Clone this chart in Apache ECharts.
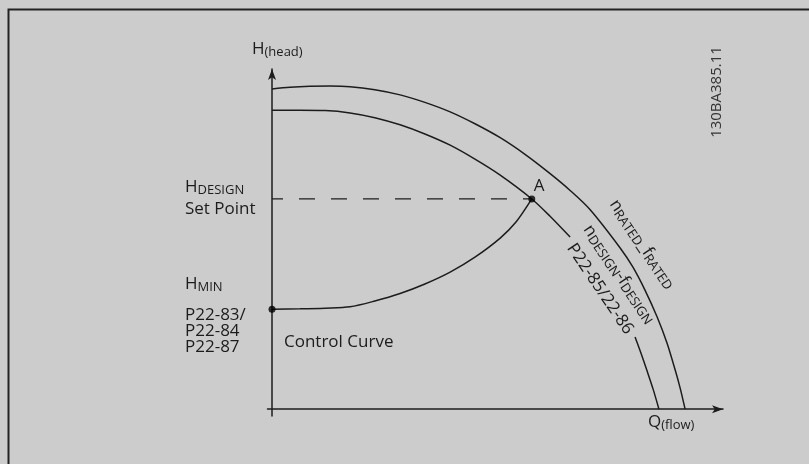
<!DOCTYPE html>
<html>
<head>
<meta charset="utf-8">
<script src="https://cdn.jsdelivr.net/npm/echarts@6/dist/echarts.min.js"></script>
<style>
  html, body, #main {
    width: 100%;
    height: 100%;
    margin: 0;
    background: #cccccc;
  }
</style>
</head>
<body>
<div id="main"></div>
<script>
// Q (flow) and H (head) in relative units, both axes run 0..100
var ratedQ = [0, 4.0, 8.4, 12.9, 17.3, 22.8, 28.4, 33.9, 39.5, 45.0, 50.6, 56.1, 61.6, 66.1, 70.5, 77.2, 80.0, 82.7, 85.4, 87.6, 89.4, 90.5, 91.6]
var ratedH = [94.1, 94.6, 94.9, 95.0, 94.8, 93.9, 92.4, 90.2, 87.4, 83.9, 79.8, 74.9, 69.3, 64.3, 58.7, 47.4, 41.8, 35.0, 27.1, 19.4, 11.5, 6.2, 0]

// design curve is broken where its label sits (null = gap)
var designQ = [0, 6.2, 11.8, 17.3, 22.8, 28.4, 33.9, 39.5, 45.0, 50.6, 57.6, 61.6, 66.1, null, 80.5, 81.8, 83.1, 84.5, 85.8]
var designH = [87.9, 87.9, 87.8, 87.1, 85.7, 83.6, 80.9, 77.6, 73.5, 68.8, 61.8, 56.8, 50.6, null, 21.2, 16.5, 11.5, 5.9, 0]

var controlQ = [0, 6.2, 11.8, 17.3, 22.8, 28.4, 33.9, 39.5, 45.0, 50.6, 54.1, 57.6]
var controlH = [29.4, 29.5, 29.7, 30.1, 31.8, 34.0, 36.8, 40.3, 44.7, 50.3, 55.0, 61.8]

var pointA = [57.6, 61.8]
var pointHmin = [0, 29.4]

var ink = '#1c1c1c'
var font = '"Open Sans", sans-serif'

var pairs = function (xs, ys) {
  return xs.map(function (x, i) { return x === null ? [null, null] : [x, ys[i]] })
}

var chart = echarts.init(document.getElementById('main'))

var sub = function (size, pad) {
  return { fontSize: size, fontFamily: font, color: ink, verticalAlign: 'top', lineHeight: 20, padding: [pad, 0, 0, 0] }
}
var rich = { m: sub(17, 0), s: sub(13, 5) }

var label = function (x, y, text, opt) {
  opt = opt || {}
  return {
    type: 'text', x: x, y: y, rotation: opt.rotation || 0, z: 10,
    style: Object.assign({
      text: text, rich: rich, fill: ink, font: '17px ' + font,
      textAlign: opt.align || 'left', textVerticalAlign: opt.valign || 'top',
      lineHeight: opt.lineHeight || 20
    }, opt.style || {})
  }
}

var slant = -56 * Math.PI / 180
var curve = { color: ink, width: 1.5 }

var option = {
  backgroundColor: '#cccccc',
  animation: false,
  grid: { left: 267.5, right: 86, top: 69, bottom: 48 },
  xAxis: {
    type: 'value', min: -1, max: 100,
    axisLine: { onZero: true, symbol: ['none', 'arrow'], symbolSize: [6, 11], lineStyle: { color: ink, width: 1.5 } },
    axisTick: { show: false }, axisLabel: { show: false }, splitLine: { show: false }
  },
  yAxis: {
    type: 'value', min: -2, max: 100,
    axisLine: { onZero: true, symbol: ['none', 'arrow'], symbolSize: [6, 11], lineStyle: { color: ink, width: 1.5 } },
    axisTick: { show: false }, axisLabel: { show: false }, splitLine: { show: false }
  },
  series: [
    { name: 'rated', type: 'line', data: pairs(ratedQ, ratedH), smooth: 0.3, showSymbol: false, lineStyle: curve },
    { name: 'design', type: 'line', data: pairs(designQ, designH), smooth: 0.3, connectNulls: false, showSymbol: false, lineStyle: curve },
    { name: 'control', type: 'line', data: pairs(controlQ, controlH), smooth: 0.3, showSymbol: false, lineStyle: curve },
    {
      name: 'setpoint', type: 'line', data: [[0, pointA[1]], pointA],
      showSymbol: false, lineStyle: { color: ink, width: 1.3, type: [16, 16], dashOffset: 5 }
    },
    {
      name: 'points', type: 'scatter', data: [pointHmin, pointA], symbolSize: 7,
      itemStyle: { color: '#000' }, z: 5
    }
  ],
  graphic: [
    { type: 'rect', shape: { x: 8.5, y: 9.5, width: 900, height: 600 }, style: { fill: null, stroke: '#222', lineWidth: 2 } },
    label(252, 41, '{m|H}{s|(head)}'),
    label(185, 179, '{m|H}{s|DESIGN}'),
    label(185, 199, 'Set Point'),
    label(185, 276, '{m|H}{s|MIN}'),
    label(185, 307, 'P22-83/\nP22-84\nP22-87', { lineHeight: 16 }),
    label(284, 332, 'Control Curve'),
    label(539, 176, 'A', { align: 'center' }),
    label(648, 414, '{m|Q}{s|(flow)}'),
    label(641, 245, '{m|n}{s|RATED}{m|_f}{s|RATED}', { align: 'center', valign: 'middle', rotation: slant }),
    label(618, 275, '{m|n}{s|DESIGN}{m|-f}{s|DESIGN}', { align: 'center', valign: 'middle', rotation: slant }),
    label(600, 289, 'P22-85/22-86', { align: 'center', valign: 'middle', rotation: slant }),
    label(717, 92, '130BA385.11', { align: 'center', valign: 'middle', rotation: Math.PI / 2, style: { font: '15px ' + font, fill: '#333' } })
  ]
}

chart.setOption(option)
</script>
</body>
</html>
